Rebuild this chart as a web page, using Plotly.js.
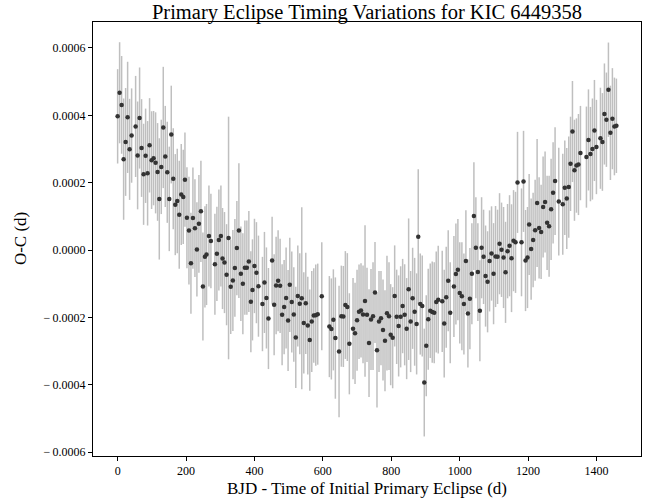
<!DOCTYPE html>
<html>
<head>
<meta charset="utf-8">
<script src="https://cdn.plot.ly/plotly-3.0.1.min.js"></script>
<style>html,body{margin:0;padding:0;background:#fff;}#chart{width:654px;height:501px;}</style>
</head>
<body>
<div id="chart"></div>
<script>
// Time since initial primary eclipse (d)
const bjd = [
0,5.8,11.7,17.5,23.4,29.2,35.0,40.9,52.6,58.4,64.2,70.0,75.9,81.8,87.6,93.4,99.3,105.1,111.0,116.8,
121.8,127.6,133.4,139.3,145.1,151.0,156.8,162.6,168.5,174.3,180.1,186.0,191.8,196.8,202.6,208.5,214.3,220.1,226.0,231.8,
237.6,243.5,249.3,255.2,259.9,266.9,272.7,284.4,290.2,296.0,301.9,306.6,312.4,318.5,324.3,330.6,336.9,342.8,348.6,354.5,
360.3,366.1,372.0,377.8,383.6,389.5,394.2,400.0,405.8,411.7,423.4,429.2,435.0,440.9,451.6,457.5,463.3,469.1,475.0,480.8,
486.7,492.5,498.3,503.3,509.1,515.0,520.8,526.7,532.5,538.3,544.2,550.0,555.9,561.7,567.5,573.4,579.2,585.0,596.8,619.0,
624.8,630.7,636.5,647.3,654.0,659.9,665.7,671.5,677.4,688.2,694.0,699.9,705.7,711.5,717.4,723.2,729.0,734.9,740.7,746.6,
752.4,758.2,764.1,769.9,775.8,781.6,787.4,793.3,798.2,804.0,809.9,815.7,821.5,827.4,833.2,839.1,844.9,850.7,856.6,862.4,
868.3,874.1,878.8,884.7,890.5,896.4,902.2,908.0,913.9,919.7,925.5,931.4,937.2,948.9,954.7,960.6,966.4,972.3,983.1,988.9,
994.7,1000.2,1006.4,1012.3,1018.1,1024.0,1029.8,1035.6,1041.5,1047.3,1053.1,1059.0,1064.0,1069.8,1075.6,1081.5,1087.3,1093.1,1099.0,1104.8,
1110.7,1116.5,1122.3,1128.2,1134.0,1139.9,1145.7,1151.5,1157.4,1163.2,1169.0,1180.7,1186.6,1192.4,1198.2,1203.0,1208.8,1214.6,1220.5,1226.3,
1232.1,1238.0,1243.8,1249.6,1255.5,1261.3,1267.2,1273.0,1278.8,1289.6,1301.3,1307.2,1313.0,1318.8,1324.0,1329.6,1335.5,1341.3,1347.2,1353.0,
1370.5,1376.4,1382.2,1388.0,1393.9,1399.7,1411.4,1417.2,1423.1,1428.9,1434.8,1440.6,1446.4,1452.3,1458.1
];
// O-C residuals (d)
const oc = [
0.000397,0.000467,0.000431,0.000270,0.000321,0.000394,0.000299,0.000340,0.000367,0.000281,0.000392,0.000303,0.000225,0.000280,0.000228,0.000311,0.000267,0.000273,0.000259,0.000232,
0.000152,0.000247,0.000364,0.000278,0.000231,0.000152,0.000343,0.000212,0.000135,0.000146,0.000105,0.000165,0.000158,0.000209,0.000096,0.000058,-0.000039,0.000095,0.000065,0.000002,
0.000078,0.000115,-0.000108,-0.000020,-0.000013,0.000042,0.000027,-0.000042,-0.000011,0.000030,0.000042,-0.000025,-0.000037,-0.000073,0.000036,-0.000109,-0.000090,-0.000053,0.000006,0.000058,
-0.000070,-0.000100,-0.000052,-0.000052,-0.000034,-0.000153,-0.000118,-0.000047,-0.000067,-0.000107,-0.000160,-0.000096,-0.000142,-0.000203,-0.000031,-0.000162,-0.000105,-0.000091,-0.000106,-0.000192,
-0.000169,-0.000142,-0.000209,-0.000103,-0.000154,-0.000191,-0.000259,-0.000136,-0.000159,-0.000143,-0.000216,-0.000158,-0.000224,-0.000267,-0.000212,-0.000194,-0.000193,-0.000190,-0.000137,-0.000227,
-0.000234,-0.000207,-0.000261,-0.000301,-0.000196,-0.000197,-0.000163,-0.000169,-0.000278,-0.000233,-0.000247,-0.000208,-0.000183,-0.000179,-0.000191,-0.000151,-0.000192,-0.000276,-0.000206,-0.000196,
-0.000126,-0.000297,-0.000212,-0.000202,-0.000237,-0.000269,-0.000187,-0.000196,-0.000251,-0.000260,-0.000136,-0.000198,-0.000225,-0.000198,-0.000166,-0.000192,-0.000233,-0.000116,-0.000212,-0.000143,
-0.000183,-0.000219,0.000040,-0.000160,-0.000166,-0.000393,-0.000284,-0.000205,-0.000180,-0.000184,-0.000186,-0.000154,-0.000147,-0.000152,-0.000218,-0.000140,-0.000091,-0.000186,-0.000108,-0.000071,
-0.000058,-0.000127,-0.000137,-0.000160,-0.000032,-0.000188,-0.000144,-0.000070,0.000101,0.000007,-0.000065,-0.000180,0.000007,-0.000020,-0.000077,-0.000094,-0.000032,-0.000010,-0.000070,-0.000019,
-0.000020,0.000019,0.000001,-0.000022,-0.000066,-0.000003,0.000013,-0.000024,0.000028,0.000023,0.000201,0.000023,0.000204,-0.000031,-0.000022,0.000076,0.000003,0.000030,0.000059,0.000140,
0.000066,0.000054,0.000128,0.000143,0.000081,0.000071,0.000121,0.000170,0.000205,0.000144,0.000136,0.000185,0.000153,0.000187,0.000256,0.000352,0.000237,0.000251,0.000254,0.000288,
0.000276,0.000327,0.000285,0.000300,0.000355,0.000306,0.000332,0.000321,0.000404,0.000387,0.000476,0.000348,0.000390,0.000367,0.000369
];
// 1-sigma uncertainties (d)
const ocErr = [
0.000140,0.000150,0.000145,0.000180,0.000160,0.000165,0.000150,0.000140,0.000150,0.000160,0.000150,0.000145,0.000150,0.000140,0.000155,0.000140,0.000145,0.000140,0.000150,0.000145,
0.000180,0.000140,0.000180,0.000150,0.000150,0.000155,0.000145,0.000150,0.000150,0.000155,0.000160,0.000150,0.000140,0.000140,0.000150,0.000160,0.000150,0.000150,0.000145,0.000140,
0.000145,0.000150,0.000160,0.000150,0.000150,0.000150,0.000140,0.000150,0.000140,0.000150,0.000150,0.000150,0.000150,0.000150,0.000360,0.000140,0.000150,0.000145,0.000140,0.000200,
0.000140,0.000150,0.000140,0.000140,0.000150,0.000150,0.000150,0.000140,0.000150,0.000150,0.000140,0.000150,0.000150,0.000150,0.000130,0.000150,0.000145,0.000150,0.000140,0.000150,
0.000140,0.000150,0.000150,0.000140,0.000150,0.000140,0.000150,0.000150,0.000150,0.000270,0.000150,0.000150,0.000145,0.000150,0.000150,0.000140,0.000150,0.000150,0.000160,0.000150,
0.000150,0.000150,0.000180,0.000195,0.000150,0.000150,0.000160,0.000160,0.000150,0.000150,0.000150,0.000150,0.000140,0.000140,0.000145,0.000225,0.000140,0.000160,0.000150,0.000160,
0.000150,0.000170,0.000150,0.000140,0.000150,0.000150,0.000170,0.000160,0.000150,0.000150,0.000150,0.000140,0.000150,0.000150,0.000140,0.000150,0.000150,0.000210,0.000150,0.000150,
0.000160,0.000150,0.000200,0.000150,0.000150,0.000160,0.000150,0.000150,0.000140,0.000150,0.000150,0.000150,0.000160,0.000150,0.000160,0.000150,0.000150,0.000150,0.000150,0.000150,
0.000150,0.000150,0.000160,0.000150,0.000150,0.000160,0.000150,0.000150,0.000160,0.000150,0.000145,0.000150,0.000150,0.000140,0.000150,0.000150,0.000150,0.000140,0.000150,0.000150,
0.000140,0.000150,0.000140,0.000150,0.000150,0.000140,0.000150,0.000160,0.000150,0.000150,0.000150,0.000160,0.000150,0.000150,0.000150,0.000150,0.000150,0.000140,0.000150,0.000190,
0.000150,0.000140,0.000150,0.000150,0.000140,0.000150,0.000150,0.000150,0.000160,0.000160,0.000150,0.000140,0.000150,0.000150,0.000140,0.000150,0.000150,0.000140,0.000150,0.000140,
0.000150,0.000150,0.000140,0.000150,0.000150,0.000140,0.000150,0.000145,0.000150,0.000140,0.000140,0.000140,0.000150,0.000145,0.000140
];
const xTicks = [0,200,400,600,800,1000,1200,1400];
const yTicks = [-0.0006,-0.0004,-0.0002,0,0.0002,0.0004,0.0006];
const yTickText = ["\u2212\u20090.0006","\u2212\u20090.0004","\u2212\u20090.0002","0.0000","0.0002","0.0004","0.0006"];

const FONT = "Liberation Serif, Times New Roman, serif";

const trace = {
  type: 'scatter', mode: 'markers',
  x: bjd, y: oc,
  error_y: {type: 'data', array: ocErr, visible: true, color: '#bfbfbf', thickness: 1.5, width: 0},
  marker: {color: '#333333', size: 4.5},
  hoverinfo: 'x+y'
};

const axisCommon = {
  showline: true, linecolor: '#000', linewidth: 1, mirror: true,
  ticks: 'outside', ticklen: 4, tickwidth: 1, tickcolor: '#000',
  showgrid: false, zeroline: false,
  tickfont: {family: FONT, size: 12, color: '#000'}
};

const layout = {
  width: 654, height: 501,
  margin: {l: 93, r: 13, t: 22, b: 45},
  paper_bgcolor: '#fff', plot_bgcolor: '#fff',
  showlegend: false,
  font: {family: FONT, color: '#000'},
  title: {text: 'Primary Eclipse Timing Variations for KIC 6449358',
          font: {family: FONT, size: 20.5, color: '#000'},
          x: 0.5, xref: 'paper', xanchor: 'center', y: 0.976, yref: 'container', yanchor: 'middle'},
  xaxis: Object.assign({}, axisCommon, {
    range: [-72, 1530], tickvals: xTicks,
    title: {text: 'BJD - Time of Initial Primary Eclipse (d)', font: {family: FONT, size: 17, color: '#000'}, standoff: 4}
  }),
  yaxis: Object.assign({}, axisCommon, {
    range: [-0.000611, 0.000677], tickvals: yTicks, ticktext: yTickText
  }),
  annotations: [{
    text: 'O-C (d)', textangle: -90, showarrow: false,
    xref: 'paper', yref: 'paper', x: -0.133, y: 0.5, xanchor: 'center', yanchor: 'middle',
    font: {family: FONT, size: 17, color: '#000'}
  }]
};

Plotly.newPlot('chart', [trace], layout, {staticPlot: true, displayModeBar: false});
</script>
</body>
</html>
